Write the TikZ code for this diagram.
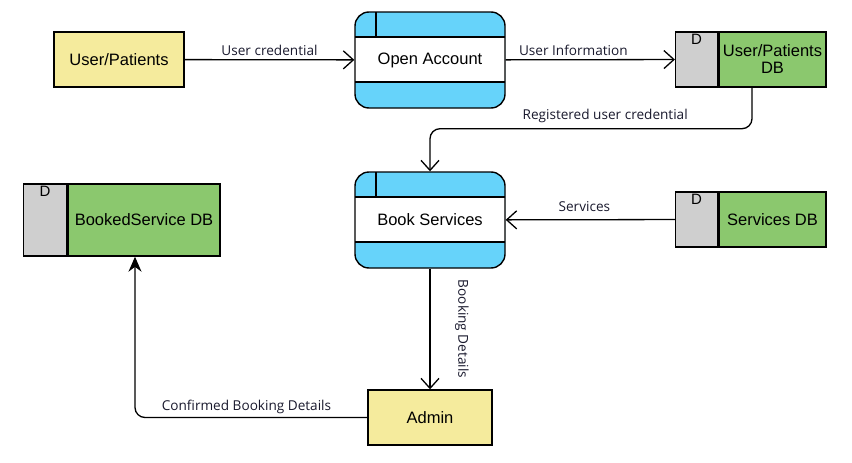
\documentclass[tikz,border=0pt]{standalone}
\usepackage{fontspec}
\setmainfont{Liberation Sans}
\newfontfamily\lblfont{Open Sans}
\usetikzlibrary{arrows.meta,positioning,calc}

\definecolor{extyellow}{RGB}{245,235,157}
\definecolor{procblue}{RGB}{102,211,250}
\definecolor{storegreen}{RGB}{139,200,110}
\definecolor{storegray}{RGB}{207,207,207}
\definecolor{lbltext}{RGB}{25,25,45}

\tikzset{
  ent/.style={draw, line width=1.4pt, fill=extyellow, minimum width=130pt, minimum height=55pt, font=\fontsize{16.5}{19}\selectfont},
  proc/.style={draw, line width=1.4pt, rounded corners=14pt, fill=procblue, minimum width=150pt, minimum height=96pt, font=\fontsize{16.5}{19}\selectfont,
    path picture={
      \fill[white, sharp corners] ([yshift=-25pt]path picture bounding box.north west) rectangle ([yshift=26pt]path picture bounding box.south east);
      \draw[line width=1.4pt, sharp corners] ([yshift=-25pt]path picture bounding box.north west) -- ([yshift=-25pt]path picture bounding box.north east)
        ([yshift=26pt]path picture bounding box.south west) -- ([yshift=26pt]path picture bounding box.south east)
        ([xshift=21pt]path picture bounding box.north west) -- ([xshift=21pt,yshift=-25pt]path picture bounding box.north west);
    }},
  dstore/.style={draw, line width=1.4pt, fill=storegreen, minimum height=55pt, align=center, font=\fontsize{16.5}{19}\selectfont},
  dtag/.style={draw, line width=1.4pt, fill=storegray, minimum width=42pt, minimum height=55pt, inner sep=0pt,
    label={[anchor=north, inner sep=3pt, font=\fontsize{15}{17}\selectfont]north:D}},
  flow/.style={line width=1.3pt, -{Straight Barb[length=10pt,width=18pt,line width=1.3pt]}},
  lbl/.style={font=\lblfont\fontsize{13.6}{16}\selectfont, text=lbltext, inner sep=3pt}
}

\begin{document}
\begin{tikzpicture}[x=1pt, y=-1pt]
\useasboundingbox (0,0) rectangle (852,463);
%entities
\node[ent] (user) at (119,59.5) {User/Patients};
\node[ent, minimum width=124pt] (admin) at (430,417.5) {Admin};
%processes
\node[proc] (open) at (430,60) {Open Account};
\node[proc] (book) at (430,220) {Book Services};
%stores
\node[dstore, minimum width=107pt] (updb) at (772.5,59.5) {User/Patients\\[-2pt]DB};
\node[dtag, left=0pt of updb] (updbD) {};
\node[dstore, minimum width=107pt] (svdb) at (772.5,219.5) {Services DB};
\node[dtag, left=0pt of svdb] (svdbD) {};
\node[dstore, minimum width=152pt, minimum height=72pt] (bsdb) at (144,220) {BookedService DB};
\node[dtag, minimum width=43pt, minimum height=72pt, left=0pt of bsdb] (bsdbD) {};

%flows
\draw[flow] (user) -- node[lbl, above]{User credential} (open);
\draw[flow] (open) -- node[lbl, above, pos=0.4]{User Information} (updbD);
\draw[flow, rounded corners=10pt] ([xshift=-20.5pt]updb.south) -- ++(0,41)
  -- node[lbl, above, pos=0.456, yshift=2pt]{Registered user credential} ++(-322,0) -- (book.north);
\draw[flow] (svdbD) -- node[lbl, above, pos=0.535, yshift=4pt]{Services} (book);
\draw[flow] (book) -- node[lbl, xshift=32pt, rotate=-90]{Booking Details} (admin);
\coordinate (bsin) at ([xshift=-9pt]bsdb.south);
\draw[line width=1.3pt, -{Stealth[length=15pt,width=13pt]}, rounded corners=10pt] (admin.west)
  -- node[lbl, above, pos=0.52]{Confirmed Booking Details} (admin.west -| bsin) -- (bsin);
\end{tikzpicture}
\end{document}
